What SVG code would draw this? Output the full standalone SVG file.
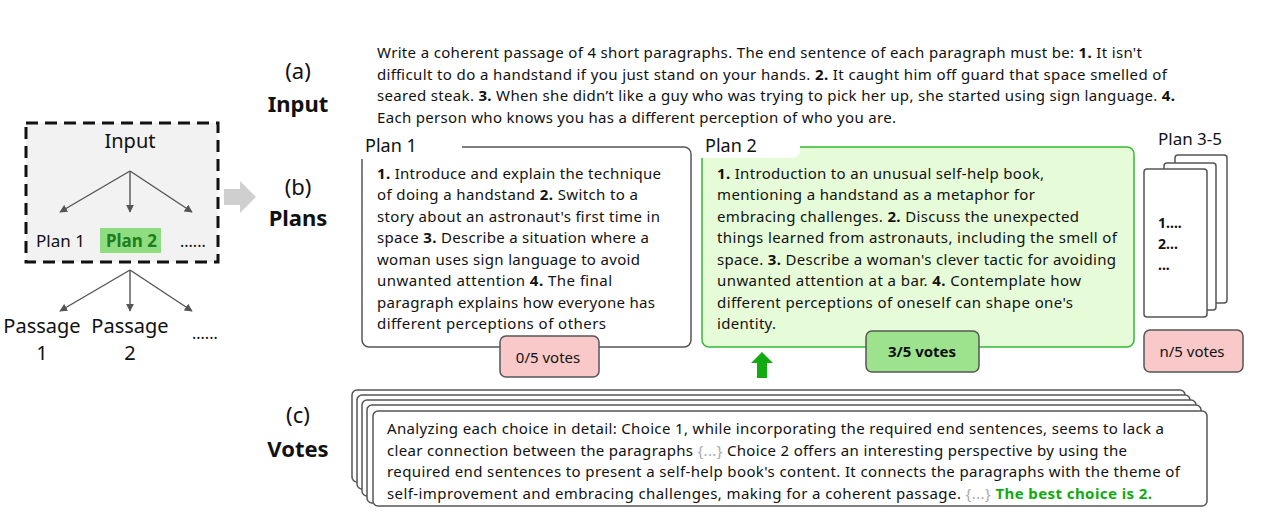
<svg xmlns="http://www.w3.org/2000/svg" width="1280" height="520" viewBox="0 0 1280 520">
<style>
text{font-family:"Noto Sans","Open Sans","DejaVu Sans",sans-serif;fill:#111}
.t{font-size:15px}
.b{font-weight:bold}
.lbl{font-size:22px;text-anchor:middle}
.box{fill:#fff;stroke:#555;stroke-width:1.5}
.mid{text-anchor:middle}
.ar{stroke:#555;stroke-width:1.4;fill:none;marker-end:url(#ah)}
.g{fill:#aaa}
</style>
<defs>
<marker id="ah" viewBox="0 0 10 10" refX="9" refY="5" markerWidth="8" markerHeight="8" markerUnits="userSpaceOnUse" orient="auto">
<path d="M0,0 L10,5 L0,10 z" fill="#555"/>
</marker>
</defs>
<rect width="1280" height="520" fill="#fff"/>

<g id="overview">
<rect x="26" y="123" width="192" height="139" fill="#f2f2f2" stroke="#111" stroke-width="3" stroke-dasharray="12,7"/>
<text x="130" y="148" class="mid" font-size="20">Input</text>
<rect x="100" y="228" width="61" height="25" fill="#8fdd80"/>
<text x="36" y="247" font-size="17">Plan 1</text>
<text x="106" y="247" font-size="17" class="b" style="fill:#1e7d1e">Plan 2</text>
<text x="180" y="247" font-size="16">......</text>
<text x="42" y="333" class="mid" font-size="20">Passage</text>
<text x="42" y="360" class="mid" font-size="20">1</text>
<text x="130" y="333" class="mid" font-size="20">Passage</text>
<text x="130" y="360" class="mid" font-size="20">2</text>
<text x="192" y="339" font-size="16">......</text>
<polygon points="224,189 240,189 240,181 256,197 240,213 240,205 224,205" fill="#cfcfcf"/>
</g>

<g id="connectors">
<line class="ar" x1="130" y1="171" x2="60" y2="212"/>
<line class="ar" x1="130" y1="171" x2="130" y2="212"/>
<line class="ar" x1="130" y1="171" x2="192" y2="212"/>
<line class="ar" x1="130" y1="270" x2="60" y2="311"/>
<line class="ar" x1="130" y1="270" x2="130" y2="311"/>
<line class="ar" x1="130" y1="270" x2="192" y2="311"/>
<polygon points="762,352 773,363 767,363 767,378 757,378 757,363 751,363" fill="#11aa11"/>
</g>

<g id="labels">
<text x="298" y="79" class="lbl">(a)</text>
<text x="298" y="112" class="lbl b">Input</text>
<text x="298" y="195" class="lbl">(b)</text>
<text x="298" y="226" class="lbl b">Plans</text>
<text x="298" y="423" class="lbl">(c)</text>
<text x="298" y="457" class="lbl b">Votes</text>
</g>

<g id="input">
<text x="377" y="58" class="t" textLength="765" lengthAdjust="spacing">Write a coherent passage of 4 short paragraphs. The end sentence of each paragraph must be: <tspan class="b">1.</tspan> It isn't</text>
<text x="377" y="80" class="t" textLength="790" lengthAdjust="spacing">difficult to do a handstand if you just stand on your hands. <tspan class="b">2.</tspan> It caught him off guard that space smelled of</text>
<text x="377" y="101" class="t" textLength="798" lengthAdjust="spacing">seared steak. <tspan class="b">3.</tspan> When she didn’t like a guy who was trying to pick her up, she started using sign language. <tspan class="b">4.</tspan></text>
<text x="377" y="123" class="t" textLength="519" lengthAdjust="spacing">Each person who knows you has a different perception of who you are.</text>
</g>

<g id="plan1">
<rect x="362" y="147" width="329" height="200" rx="7" class="box"/>
<rect x="354" y="128" width="108" height="31" fill="#fff"/>
<text x="365" y="152" font-size="18">Plan 1</text>
<text x="377" y="179" class="t" textLength="284" lengthAdjust="spacing"><tspan class="b">1.</tspan> Introduce and explain the technique</text>
<text x="377" y="200" class="t" textLength="261" lengthAdjust="spacing">of doing a handstand <tspan class="b">2.</tspan> Switch to a</text>
<text x="377" y="222" class="t" textLength="283" lengthAdjust="spacing">story about an astronaut's first time in</text>
<text x="377" y="243" class="t" textLength="272" lengthAdjust="spacing">space <tspan class="b">3.</tspan> Describe a situation where a</text>
<text x="377" y="265" class="t" textLength="263" lengthAdjust="spacing">woman uses sign language to avoid</text>
<text x="377" y="286" class="t" textLength="235" lengthAdjust="spacing">unwanted attention <tspan class="b">4.</tspan> The final</text>
<text x="377" y="308" class="t" textLength="278" lengthAdjust="spacing">paragraph explains how everyone has</text>
<text x="377" y="329" class="t" textLength="229" lengthAdjust="spacing">different perceptions of others</text>
</g>

<g id="votes1">
<rect x="500" y="336" width="99" height="41" rx="6" fill="#f9c9c9" stroke="#555" stroke-width="1.5"/>
<text x="548" y="363" class="mid" font-size="15">0/5 votes</text>
</g>

<g id="plan2">
<rect x="702" y="147" width="432" height="200" rx="7" fill="#e6fbd7" stroke="#33bb33" stroke-width="1.5"/>
<path d="M694,128 H800 V150 Q800,158 792,158 H694 Z" fill="#fff"/>
<text x="705" y="152" font-size="18">Plan 2</text>
<text x="717" y="179" class="t" textLength="327" lengthAdjust="spacing"><tspan class="b">1.</tspan> Introduction to an unusual self-help book,</text>
<text x="717" y="200" class="t" textLength="318" lengthAdjust="spacing">mentioning a handstand as a metaphor for</text>
<text x="717" y="222" class="t" textLength="362" lengthAdjust="spacing">embracing challenges. <tspan class="b">2.</tspan> Discuss the unexpected</text>
<text x="717" y="243" class="t" textLength="400" lengthAdjust="spacing">things learned from astronauts, including the smell of</text>
<text x="717" y="265" class="t" textLength="399" lengthAdjust="spacing">space. <tspan class="b">3.</tspan> Describe a woman's clever tactic for avoiding</text>
<text x="717" y="286" class="t" textLength="364" lengthAdjust="spacing">unwanted attention at a bar. <tspan class="b">4.</tspan> Contemplate how</text>
<text x="717" y="308" class="t" textLength="356" lengthAdjust="spacing">different perceptions of oneself can shape one's</text>
<text x="717" y="329" class="t" textLength="59" lengthAdjust="spacing">identity.</text>
</g>

<g id="votes2">
<rect x="866" y="331" width="113" height="41" rx="6" fill="#9de38e" stroke="#555" stroke-width="1.5"/>
<text x="922" y="357" class="mid b" font-size="15">3/5 votes</text>
</g>

<g id="plan35">
<text x="1190" y="145" class="mid" font-size="17">Plan 3-5</text>
<rect x="1175" y="155" width="52" height="148" rx="3" class="box"/>
<rect x="1164" y="163" width="52" height="147" rx="3" class="box"/>
<rect x="1144" y="169" width="63" height="148" rx="3" class="box"/>
<text x="1158" y="228" class="b" font-size="14">1....</text>
<text x="1158" y="249" class="b" font-size="14">2...</text>
<text x="1158" y="270" class="b" font-size="14">...</text>
</g>

<g id="votes35">
<rect x="1144" y="330" width="99" height="42" rx="6" fill="#f9c9c9" stroke="#555" stroke-width="1.5"/>
<text x="1192" y="357" class="mid" font-size="15">n/5 votes</text>
</g>

<g id="votes">
<rect x="352" y="390" width="833" height="92" rx="5" class="box"/>
<rect x="357" y="395" width="833" height="94" rx="5" class="box"/>
<rect x="362" y="400" width="834" height="96" rx="5" class="box"/>
<rect x="367" y="405" width="834" height="98" rx="5" class="box"/>
<rect x="373" y="411" width="834" height="95" rx="5" class="box"/>
<text x="387" y="434" class="t" textLength="777" lengthAdjust="spacing">Analyzing each choice in detail:  Choice 1, while incorporating the required end sentences, seems to lack a</text>
<text x="387" y="456" class="t" textLength="740" lengthAdjust="spacing">clear connection between the paragraphs <tspan class="g">{...}</tspan> Choice 2 offers an interesting perspective by using the</text>
<text x="387" y="477" class="t" textLength="793" lengthAdjust="spacing">required end sentences to present a self-help book's content. It connects the paragraphs with the theme of</text>
<text x="387" y="499" class="t" textLength="765" lengthAdjust="spacing">self-improvement and embracing challenges, making for a coherent passage.  <tspan class="g">{...}</tspan> <tspan class="b" style="fill:#11aa11">The best choice is 2.</tspan></text>
</g>
</svg>
